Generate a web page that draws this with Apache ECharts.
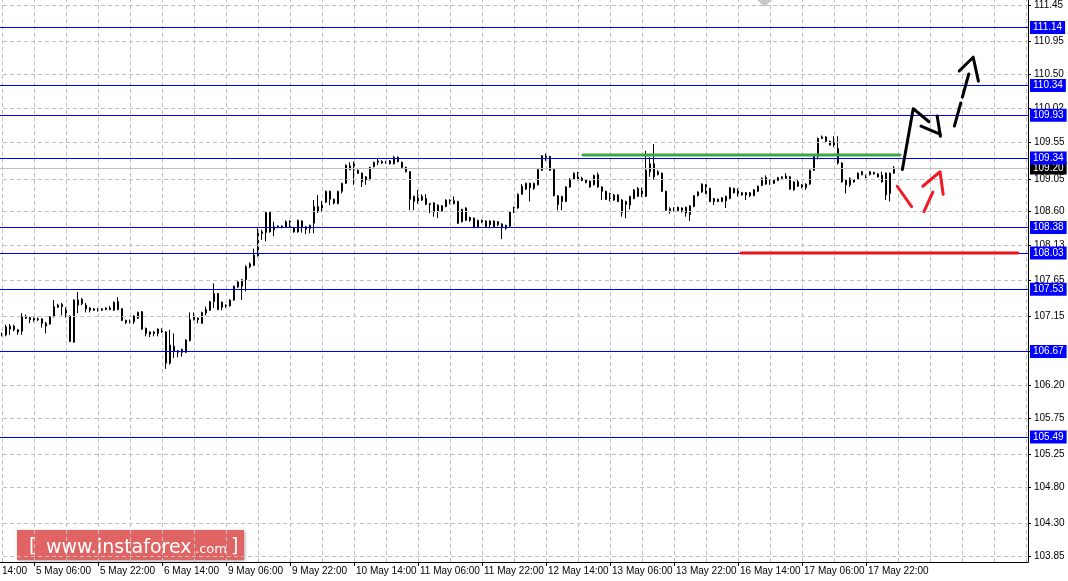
<!DOCTYPE html>
<html>
<head>
<meta charset="utf-8">
<script src="https://cdn.jsdelivr.net/npm/echarts@6.0.0/dist/echarts.min.js"></script>
<style>
html,body{margin:0;padding:0;background:#fff;overflow:hidden;width:1068px;height:581px;position:relative;}
#chart{position:absolute;left:-32px;top:0;width:1100px;height:581px;}
</style>
</head>
<body>
<div id="chart"></div>
<script>
// ---- Data (H1 candles, bar index 0 = 4 May 22:00) ----
const opens = [106.91,106.90,106.98,107.02,106.97,106.95,107.15,107.14,107.10,107.12,107.12,107.02,107.05,107.15,107.28,107.32,107.27,107.16,106.80,107.31,107.33,107.31,107.27,107.26,107.25,107.24,107.27,107.27,107.24,107.36,107.26,107.10,107.10,107.08,107.13,107.22,106.99,106.94,106.94,106.92,106.98,106.94,106.51,106.74,106.68,106.70,106.66,106.82,107.11,107.13,107.06,107.20,107.24,107.36,107.47,107.35,107.31,107.30,107.38,107.56,107.57,107.66,107.84,107.86,107.99,108.32,108.31,108.59,108.39,108.40,108.38,108.39,108.47,108.38,108.32,108.47,108.39,108.41,108.44,108.60,108.60,108.73,108.88,108.77,108.71,108.88,108.99,109.23,109.17,109.17,109.13,109.08,109.04,109.22,109.28,109.27,109.29,109.30,109.26,109.35,109.28,109.21,109.15,108.74,108.72,108.81,108.78,108.71,108.72,108.60,108.68,108.67,108.71,108.75,108.74,108.46,108.65,108.52,108.51,108.39,108.48,108.39,108.47,108.39,108.46,108.43,108.41,108.40,108.59,108.65,108.84,108.91,108.99,108.92,108.97,109.17,109.35,109.36,109.18,108.82,108.74,108.74,108.94,109.05,109.04,109.06,109.04,109.02,108.97,108.94,108.94,108.88,108.85,108.76,108.83,108.76,108.74,108.69,108.78,108.81,108.92,108.81,109.15,109.26,109.11,109.13,108.88,108.64,108.65,108.61,108.65,108.66,108.56,108.67,108.82,108.87,108.97,108.92,108.78,108.77,108.74,108.81,108.78,108.92,108.91,108.86,108.86,108.86,108.82,108.88,108.96,108.98,109.04,108.99,109.03,109.06,109.09,109.08,109.01,108.95,108.97,108.93,108.98,109.17,109.36,109.61,109.63,109.57,109.55,109.47,109.27,109.04,108.97,109.04,109.05,109.11,109.10,109.11,109.14,109.12,109.10,109.13,108.85,109.13];
const highs = [106.93,107.04,107.05,107.04,106.98,107.20,107.18,107.15,107.14,107.14,107.13,107.08,107.16,107.38,107.33,107.34,107.28,107.17,107.39,107.49,107.41,107.34,107.28,107.27,107.27,107.27,107.28,107.30,107.36,107.42,107.27,107.11,107.11,107.17,107.22,107.23,107.00,106.95,106.95,106.99,106.99,106.95,106.97,106.92,106.69,106.71,106.84,107.21,107.21,107.14,107.22,107.29,107.37,107.61,107.48,107.36,107.32,107.39,107.58,107.64,107.67,107.86,107.90,108.09,108.37,108.35,108.60,108.60,108.46,108.41,108.41,108.48,108.48,108.39,108.49,108.48,108.40,108.42,108.76,108.83,108.75,108.89,108.89,108.78,108.89,109.00,109.25,109.28,109.29,109.18,109.14,109.09,109.22,109.29,109.33,109.31,109.30,109.31,109.37,109.36,109.29,109.22,109.16,108.82,108.90,108.84,108.84,108.72,108.73,108.70,108.69,108.77,108.77,108.81,108.75,108.64,108.66,108.53,108.52,108.49,108.49,108.48,108.48,108.48,108.47,108.44,108.42,108.61,108.67,108.85,108.98,109.00,109.00,109.00,109.19,109.38,109.40,109.37,109.19,108.83,108.82,108.95,109.06,109.14,109.15,109.08,109.05,109.03,109.11,109.14,108.95,108.89,108.86,108.84,108.84,108.77,108.75,108.82,108.91,108.94,108.93,109.44,109.35,109.53,109.17,109.14,108.89,108.66,108.66,108.67,108.66,108.67,108.69,108.83,108.88,108.99,108.98,108.93,108.79,108.78,108.80,108.82,108.94,108.93,108.92,108.87,108.87,108.87,108.91,108.96,109.07,109.10,109.05,109.05,109.08,109.09,109.13,109.09,109.02,109.05,108.98,108.99,109.18,109.37,109.62,109.65,109.64,109.58,109.64,109.64,109.28,109.05,109.07,109.05,109.14,109.16,109.11,109.16,109.15,109.13,109.15,109.14,109.14,109.23];
const lows = [106.88,106.88,106.90,106.95,106.90,106.90,107.12,107.06,107.08,107.09,107.00,106.92,107.04,107.14,107.27,107.17,107.14,106.80,106.79,107.20,107.31,107.21,107.21,107.23,107.22,107.23,107.24,107.24,107.23,107.24,107.09,107.05,107.06,107.05,107.12,106.97,106.88,106.87,106.88,106.88,106.93,106.43,106.49,106.58,106.59,106.60,106.65,106.81,107.10,107.06,107.05,107.17,107.23,107.27,107.24,107.24,107.27,107.29,107.37,107.55,107.38,107.50,107.82,107.85,107.98,108.21,108.19,108.31,108.26,108.37,108.37,108.38,108.38,108.31,108.31,108.31,108.29,108.30,108.30,108.58,108.59,108.72,108.69,108.70,108.70,108.85,108.98,109.17,108.97,109.12,108.94,108.97,109.03,109.21,109.24,109.26,109.26,109.25,109.25,109.28,109.20,109.14,108.62,108.62,108.71,108.75,108.69,108.58,108.53,108.51,108.60,108.66,108.70,108.70,108.43,108.45,108.47,108.46,108.37,108.38,108.44,108.38,108.37,108.38,108.40,108.22,108.35,108.39,108.58,108.64,108.83,108.90,108.74,108.90,108.96,109.16,109.30,109.16,108.81,108.62,108.62,108.73,108.93,109.04,109.03,109.02,108.99,108.93,108.96,108.93,108.76,108.76,108.74,108.75,108.73,108.53,108.51,108.63,108.77,108.80,108.80,108.80,109.08,109.04,109.10,108.87,108.61,108.57,108.60,108.60,108.59,108.53,108.47,108.66,108.81,108.86,108.84,108.73,108.69,108.73,108.73,108.65,108.77,108.85,108.81,108.82,108.76,108.80,108.81,108.87,108.95,108.97,108.97,108.98,109.02,109.05,109.05,108.90,108.89,108.94,108.92,108.90,108.97,109.16,109.32,109.60,109.56,109.51,109.49,109.25,109.00,108.85,108.94,109.00,109.04,109.10,109.06,109.10,109.11,109.07,109.00,108.76,108.74,109.12];
const closes = [106.91,107.01,107.02,106.97,106.94,107.15,107.13,107.11,107.13,107.11,107.06,107.06,107.15,107.29,107.31,107.29,107.15,106.81,107.38,107.38,107.39,107.26,107.24,107.24,107.24,107.26,107.25,107.25,107.35,107.25,107.10,107.07,107.07,107.16,107.21,106.98,106.92,106.91,106.92,106.98,106.94,106.51,106.76,106.67,106.66,106.66,106.83,107.11,107.15,107.11,107.21,107.25,107.36,107.47,107.25,107.28,107.28,107.38,107.57,107.63,107.66,107.84,107.88,108.00,108.32,108.30,108.59,108.32,108.35,108.38,108.40,108.46,108.39,108.32,108.48,108.39,108.36,108.37,108.67,108.67,108.74,108.88,108.77,108.72,108.88,108.99,109.24,109.18,109.26,109.13,109.01,109.04,109.21,109.28,109.30,109.29,109.27,109.26,109.35,109.29,109.21,109.15,108.77,108.81,108.82,108.76,108.70,108.70,108.60,108.69,108.61,108.76,108.76,108.71,108.44,108.63,108.48,108.48,108.38,108.48,108.45,108.47,108.42,108.47,108.42,108.39,108.37,108.60,108.66,108.84,108.95,108.99,108.93,108.99,109.18,109.37,109.38,109.17,108.82,108.70,108.81,108.94,109.05,109.13,109.14,109.03,109.00,108.94,109.10,109.11,108.88,108.77,108.78,108.83,108.74,108.59,108.70,108.81,108.90,108.92,108.81,109.17,109.26,109.08,109.15,108.88,108.62,108.61,108.62,108.66,108.62,108.58,108.68,108.82,108.87,108.98,108.85,108.74,108.74,108.74,108.79,108.75,108.93,108.86,108.85,108.83,108.83,108.82,108.90,108.95,109.06,109.07,108.98,109.04,109.07,109.08,109.06,108.91,108.90,109.01,108.93,108.98,109.17,109.36,109.61,109.63,109.57,109.52,109.50,109.27,109.01,108.97,109.06,109.01,109.13,109.15,109.07,109.15,109.12,109.08,109.01,108.83,109.13,109.20];

const timeTickBars = [-8,8,24,40,56,72,88,104,120,136,152,168,184,200,216];
const timeLabels = ["4 May 14:00","5 May 06:00","5 May 22:00","6 May 14:00","9 May 06:00","9 May 22:00","10 May 14:00","11 May 06:00","11 May 22:00","12 May 14:00","13 May 06:00","13 May 22:00","16 May 14:00","17 May 06:00","17 May 22:00"];
const priceTicks = [111.45,110.95,110.50,110.02,109.55,109.05,108.60,108.13,107.65,107.15,106.68,106.20,105.75,105.25,104.80,104.30,103.85];
const levelLines = [111.14,110.34,109.93,109.34,108.38,108.03,107.53,106.67,105.49];
const bidPrice = 109.20;

const greenLine = [[145.25,109.38],[224.5,109.38]];
const redLine = [[184.75,108.03],[254,108.03]];
const blackPath = [[225.1,109.18],[227.8,110.02],[231.75,109.84]];
const blackHead1 = [[229.75,109.78],[234.5,109.67]];
const blackHead2 = [[233.8,109.92],[234.6,109.64]];
const blackDashed = [[238.1,109.78],[241.8,110.52]];
const blackDashHead = [[239.3,110.54],[242.8,110.73],[244.1,110.40]];
const red1 = [[223.8,108.95],[227.4,108.67]];
const red2 = [[230.5,108.60],[232.7,108.87]];
const red3 = [[230.2,108.95],[234.5,109.15],[235.3,108.84]];

// ---- Chart ----
const X_MIN = -8.5, X_MAX = 256.5, Y_MIN = 103.767, Y_MAX = 111.519;
const OFF = 32; // chart canvas starts 32px left of the page
const gridStep = 8;
const vGrid = [];
for (let b = 0; b <= X_MAX; b += gridStep) vGrid.push(b);

const FONT = 'Liberation Sans';
const chart = echarts.init(document.getElementById('chart'), null, {renderer: 'canvas'});

function seg(data, color, width, type, z) {
  return {
    type: 'line', data: data, showSymbol: false, symbol: 'none', silent: true,
    clip: false, z: z || 6, animation: false,
    lineStyle: {color: color, width: width, type: type || 'solid', cap: 'round', join: 'round'}
  };
}

const option = {
  animation: false,
  backgroundColor: '#ffffff',
  textStyle: {fontFamily: FONT},
  grid: {left: 0, right: 40, top: 0, bottom: 19, containLabel: false},
  xAxis: {
    type: 'value', min: X_MIN, max: X_MAX, position: 'bottom',
    axisLine: {show: true, onZero: false, lineStyle: {color: '#000', width: 1}},
    axisTick: {show: true, customValues: timeTickBars, length: 4, lineStyle: {color: '#000'}},
    axisLabel: {
      show: true, customValues: timeTickBars, color: '#000', fontSize: 10, fontFamily: FONT,
      align: 'left', margin: 4, padding: [0, 0, 0, 2],
      formatter: v => timeLabels[timeTickBars.indexOf(v)] || ''
    },
    splitLine: {show: false}
  },
  yAxis: {
    type: 'value', min: Y_MIN, max: Y_MAX, position: 'right', scale: true,
    axisLine: {show: true, onZero: false, lineStyle: {color: '#000', width: 1}},
    axisTick: {show: true, customValues: priceTicks, length: 3, lineStyle: {color: '#000'}},
    axisLabel: {
      show: true, customValues: priceTicks, color: '#000', fontSize: 10, fontFamily: FONT,
      margin: 6, formatter: v => v.toFixed(2)
    },
    splitLine: {show: false}
  },
  series: [
    {
      type: 'line', data: [], silent: true, z: 1,
      markLine: {
        silent: true, symbol: ['none', 'none'], animation: false,
        label: {show: false},
        lineStyle: {color: '#c0c0c0', width: 1, type: [4, 3]},
        data: vGrid.map(b => ({xAxis: b})).concat(priceTicks.map(p => ({yAxis: p})))
      }
    },
    {
      type: 'line', data: [], silent: true, z: 2, clip: false,
      markLine: {
        silent: true, symbol: ['none', 'none'], animation: false,
        lineStyle: {color: '#c0c0c0', width: 1, type: 'solid'},
        label: {
          show: true, position: 'end', distance: 2, formatter: p => p.value.toFixed(2),
          backgroundColor: '#000', color: '#fff', fontSize: 10, fontFamily: FONT, padding: [2, 3, 1, 3]
        },
        data: [{yAxis: bidPrice}]
      }
    },
    {
      type: 'candlestick', z: 3, barWidth: 2,
      data: opens.map((o, i) => [i, o, closes[i], lows[i], highs[i]]),
      encode: {x: 0, y: [1, 2, 3, 4]},
      itemStyle: {color: '#ffffff', color0: '#000000', borderColor: '#000000', borderColor0: '#000000', borderWidth: 1}
    },
    {
      type: 'line', data: [], silent: true, z: 4, clip: false,
      markLine: {
        silent: true, symbol: ['none', 'none'], animation: false,
        lineStyle: {color: '#0000ff', width: 1, type: 'solid'},
        label: {
          show: true, position: 'end', distance: 2, formatter: p => p.value.toFixed(2),
          backgroundColor: '#0000ff', color: '#fff', fontSize: 10, fontFamily: FONT, padding: [2, 3, 1, 3]
        },
        data: levelLines.map(v => ({yAxis: v}))
      }
    },
    seg(greenLine, '#3aa64a', 3, 'solid', 5),
    seg(redLine, '#e8141e', 3, 'solid', 5),
    seg(blackPath, '#000', 3),
    seg(blackHead1, '#000', 3),
    seg(blackHead2, '#000', 3),
    seg(blackDashed, '#000', 3, [24, 6]),
    seg(blackDashHead, '#000', 3),
    seg(red1, '#ee1c25', 3),
    seg(red2, '#ee1c25', 3),
    seg(red3, '#ee1c25', 3)
  ],
  graphic: [
    {
      type: 'polygon', silent: true, z: 10,
      shape: {points: [[757 + OFF, 0], [772 + OFF, 0], [764.5 + OFF, 7]]},
      style: {fill: '#c8c8c8'}
    },
    {
      type: 'group', silent: true, z: 20, x: OFF, y: 0,
      children: [
        {type: 'rect', shape: {x: 17, y: 530, width: 227, height: 30},
          style: {fill: '#e06464', shadowColor: 'rgba(0,0,0,0.35)', shadowBlur: 3, shadowOffsetX: 1, shadowOffsetY: 1}},
        {type: 'text', z: 21, style: {x: 29, y: 547, text: '[', fill: '#ffffff', font: '19px "DejaVu Sans"', verticalAlign: 'middle', align: 'left'}},
        {type: 'text', z: 21, style: {x: 46, y: 548, text: 'www.instaforex', fill: '#ffffff', font: '19px "DejaVu Sans"', verticalAlign: 'middle', align: 'left'}},
        {type: 'text', z: 21, style: {x: 195, y: 550, text: '.com', fill: '#ffffff', font: '13px "DejaVu Sans"', verticalAlign: 'middle', align: 'left'}},
        {type: 'text', z: 21, style: {x: 231, y: 547, text: ']', fill: '#ffffff', font: '19px "DejaVu Sans"', verticalAlign: 'middle', align: 'left'}}
      ]
    }
  ]
};
chart.setOption(option);
</script>
</body>
</html>
